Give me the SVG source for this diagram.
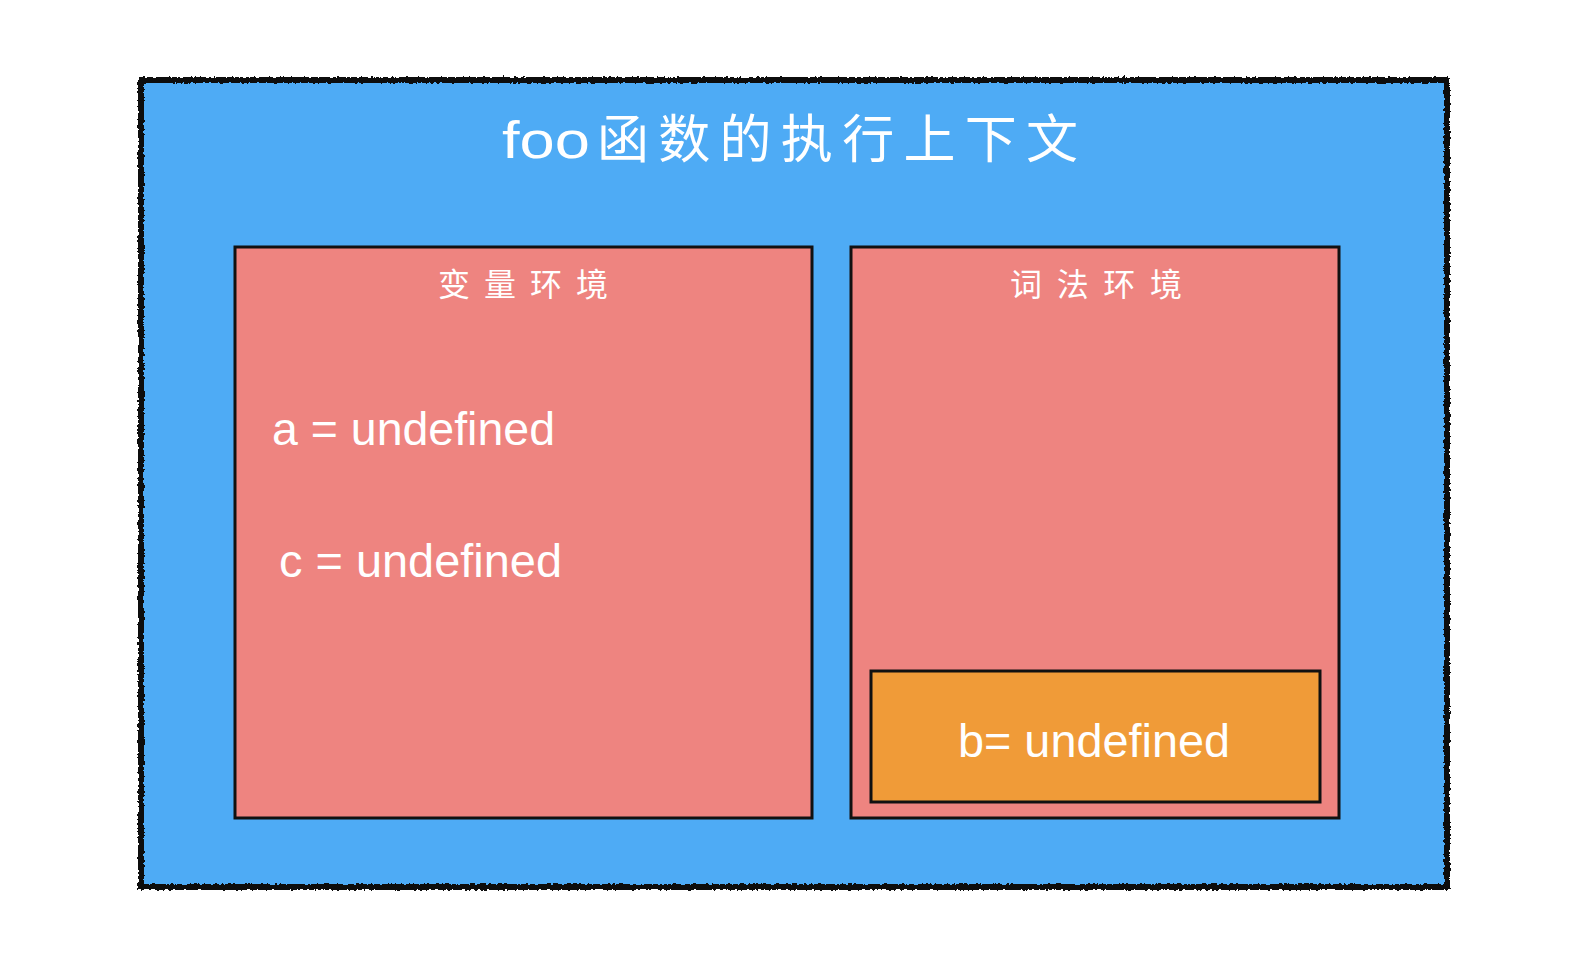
<svg xmlns="http://www.w3.org/2000/svg" width="1570" height="964" viewBox="0 0 1570 964">
<defs>
<filter id="rough" x="-5%" y="-5%" width="110%" height="110%">
<feTurbulence type="fractalNoise" baseFrequency="0.35" numOctaves="2" seed="3" result="n"/>
<feDisplacementMap in="SourceGraphic" in2="n" scale="4" xChannelSelector="R" yChannelSelector="G"/>
</filter>
</defs>
<style>
.lbl{font-family:"Liberation Sans","Noto Sans CJK SC",sans-serif;fill:#ffffff;}
.box{stroke:#111111;stroke-width:3;}
</style>
<rect width="1570" height="964" fill="#ffffff"/>
<g id="context">
<rect x="141" y="80" width="1306" height="807" fill="#4EABF5"/>
<rect x="141" y="80" width="1306" height="807" fill="none" stroke="#111111" stroke-width="6" filter="url(#rough)"/>
<text class="lbl" x="502" y="158" font-size="52"><tspan textLength="88" lengthAdjust="spacingAndGlyphs">foo</tspan><tspan x="597" textLength="481" lengthAdjust="spacing">函数的执行上下文</tspan></text>
</g>
<g id="variable-env">
<rect class="box" x="235" y="247" width="577" height="571" fill="#EE8480"/>
<text class="lbl" x="438" y="296" font-size="32" textLength="170" lengthAdjust="spacing">变量环境</text>
<text class="lbl" x="272" y="445" font-size="46" textLength="283" lengthAdjust="spacingAndGlyphs">a = undefined</text>
<text class="lbl" x="279" y="577" font-size="46" textLength="283" lengthAdjust="spacingAndGlyphs">c = undefined</text>
</g>
<g id="lexical-env">
<rect class="box" x="851" y="247" width="488" height="571" fill="#EE8480"/>
<text class="lbl" x="1010" y="296" font-size="32" textLength="172" lengthAdjust="spacing">词法环境</text>
</g>
<g id="b-entry">
<rect class="box" x="871" y="671" width="449" height="131" fill="#F09B38"/>
<text class="lbl" x="958" y="757" font-size="46" textLength="272" lengthAdjust="spacingAndGlyphs">b= undefined</text>
</g>
<g id="connectors"/>
</svg>
